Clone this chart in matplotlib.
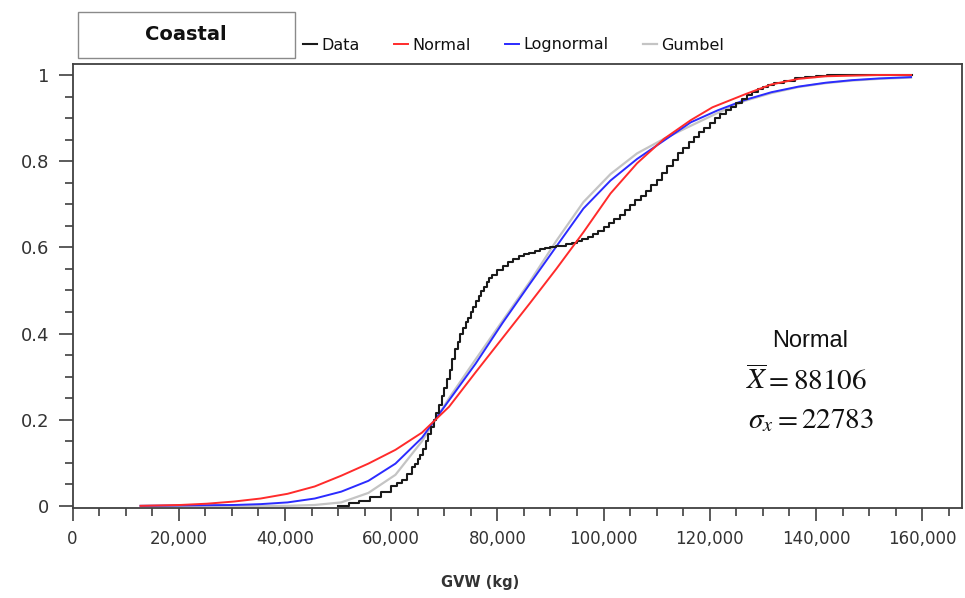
import matplotlib
matplotlib.use("Agg")
import matplotlib.pyplot as plt
from matplotlib.patches import Rectangle
from matplotlib.ticker import MultipleLocator, FuncFormatter

# ---------------- data ----------------
data_x = [50000, 52000, 54000, 56000, 58000, 60000, 61000, 62000, 63000, 64000,
          64500, 65000, 65500, 66000, 66500, 67000, 67500, 68000, 68500, 69000,
          69500, 70000, 70500, 71000, 71500, 72000, 72500, 73000, 73500, 74000,
          74500, 75000, 75500, 76000, 76500, 77000, 77500, 78000, 78500, 79000,
          80000, 81000, 82000, 83000, 84000, 85000, 86000, 87000, 88000, 89000,
          90000, 91000, 92000, 93000, 94000, 95000, 96000, 97000, 98000, 99000,
          100000, 101000, 102000, 103000, 104000, 105000, 106000, 107000, 108000, 109000,
          110000, 111000, 112000, 113000, 114000, 115000, 116000, 117000, 118000, 119000,
          120000, 121000, 122000, 123000, 124000, 125000, 126000, 127000, 128000, 129000,
          130000, 131000, 132000, 134000, 136000, 138000, 140000, 142000, 158000]
data_y = [0.0, 0.007, 0.012, 0.021, 0.032, 0.045, 0.052, 0.061, 0.073, 0.089,
          0.098, 0.108, 0.119, 0.133, 0.150, 0.166, 0.183, 0.200, 0.216, 0.233,
          0.254, 0.273, 0.294, 0.316, 0.340, 0.365, 0.380, 0.398, 0.412, 0.427,
          0.437, 0.451, 0.462, 0.476, 0.486, 0.498, 0.508, 0.519, 0.528, 0.535,
          0.548, 0.557, 0.566, 0.573, 0.579, 0.584, 0.588, 0.592, 0.595, 0.598,
          0.600, 0.602, 0.604, 0.607, 0.610, 0.614, 0.619, 0.625, 0.631, 0.639,
          0.648, 0.657, 0.666, 0.676, 0.687, 0.698, 0.709, 0.720, 0.731, 0.744,
          0.757, 0.773, 0.788, 0.803, 0.818, 0.831, 0.844, 0.856, 0.868, 0.878,
          0.889, 0.900, 0.909, 0.918, 0.926, 0.934, 0.944, 0.953, 0.961, 0.967,
          0.973, 0.977, 0.981, 0.987, 0.992, 0.995, 0.998, 1.0, 1.0]

normal_x = [12800, 20250, 25300, 30400, 35400, 40500, 45600, 50600, 55700, 60800,
            65800, 70900, 75900, 81000, 86100, 91100, 96200, 101300, 106300, 111400,
            116400, 120500, 126600, 131600, 136700, 141800, 151900, 157900]
normal_y = [0.0, 0.002, 0.005, 0.010, 0.017, 0.028, 0.045, 0.070, 0.098, 0.130,
            0.170, 0.230, 0.310, 0.390, 0.470, 0.550, 0.635, 0.725, 0.795, 0.852,
            0.895, 0.925, 0.955, 0.978, 0.991, 0.997, 1.0, 1.0]

lognormal_x = [12800, 30400, 35400, 40500, 45600, 50600, 55700, 60800, 65800, 70900,
               75900, 81000, 86100, 91100, 96200, 101300, 106300, 111400, 116400, 121500,
               126600, 131600, 136700, 141800, 146800, 151900, 157900]
lognormal_y = [0.0, 0.002, 0.004, 0.008, 0.017, 0.033, 0.058, 0.098, 0.158, 0.245,
               0.330, 0.425, 0.515, 0.602, 0.690, 0.755, 0.805, 0.848, 0.890, 0.918,
               0.942, 0.960, 0.973, 0.982, 0.988, 0.992, 0.995]

gumbel_x = [12800, 40500, 45600, 50600, 55700, 60800, 65800, 70900, 75900, 81000,
            86100, 91100, 96200, 101300, 106300, 111400, 116400, 121500, 126600, 131600,
            136700, 141800, 146800, 151900, 157900]
gumbel_y = [0.0, 0.0, 0.002, 0.008, 0.030, 0.072, 0.150, 0.250, 0.340, 0.430,
            0.520, 0.615, 0.705, 0.770, 0.818, 0.852, 0.882, 0.912, 0.940, 0.958,
            0.972, 0.981, 0.987, 0.991, 0.994]

series_labels = ["Data", "Normal", "Lognormal", "Gumbel"]
title_text = "Coastal"
xlabel_text = "GVW (kg)"
x_ticks = [0, 20000, 40000, 60000, 80000, 100000, 120000, 140000, 160000]
y_ticks = [0, 0.2, 0.4, 0.6, 0.8, 1.0]
fit_name = "Normal"
fit_mean = 88106
fit_std = 22783

# ---------------- figure ----------------
plt.rcParams["mathtext.fontset"] = "stix"
W, H = 965, 598
fig = plt.figure(figsize=(W / 100, H / 100), dpi=100)
ax = fig.add_axes([72.6 / W, 1 - 508 / H, (962 - 72.6) / W, (508 - 64) / H])

spine_col = "#404040"
text_col = "#333333"

l_data, = ax.plot(data_x, data_y, drawstyle="steps-post", color="#1a1a1a", lw=1.5,
                  label=series_labels[0], zorder=3)
l_gum, = ax.plot(gumbel_x, gumbel_y, color="#c4c4c4", lw=1.6, label=series_labels[3], zorder=2)
l_log, = ax.plot(lognormal_x, lognormal_y, color="#2b2bff", lw=1.4, label=series_labels[2], zorder=2.5)
l_norm, = ax.plot(normal_x, normal_y, color="#ff2b2b", lw=1.4, label=series_labels[1], zorder=4)

ax.set_xlim(0, 167500)
ax.set_ylim(-0.005, 1.0255)

ax.set_xticks(x_ticks)
ax.set_yticks(y_ticks)
ax.xaxis.set_minor_locator(MultipleLocator(5000))
ax.yaxis.set_minor_locator(MultipleLocator(0.05))
ax.xaxis.set_major_formatter(FuncFormatter(lambda v, p: f"{v:,.0f}"))
ax.yaxis.set_major_formatter(FuncFormatter(lambda v, p: f"{v:g}"))

ax.tick_params(axis="x", which="major", direction="out", length=9, width=1.2,
               color=spine_col, labelcolor=text_col, labelsize=12, pad=7)
ax.tick_params(axis="y", which="major", direction="out", length=10, width=1.2,
               color=spine_col, labelcolor=text_col, labelsize=13, pad=7)
ax.tick_params(axis="both", which="minor", direction="out", length=6, width=1.2,
               color=spine_col)
for s in ax.spines.values():
    s.set_color(spine_col)
    s.set_linewidth(1.3)

ax.set_xlabel(xlabel_text, fontsize=10.5, fontweight="bold", color=text_col)
ax.xaxis.set_label_coords((480 - 72.6) / (962 - 72.6), -(583 - 508) / (508 - 64))
ax.xaxis.label.set_verticalalignment("center")

# title box
fig.patches.append(Rectangle((78 / W, 1 - 58 / H), 217 / W, 46 / H, transform=fig.transFigure,
                             facecolor="white", edgecolor="#8a8a8a", lw=1.0))
fig.text(186 / W, 1 - 35 / H, title_text, ha="center", va="center", fontsize=14,
         fontweight="bold", color="#111111")

# legend row
leg = fig.legend(handles=[l_data, l_norm, l_log, l_gum], labels=series_labels,
                 loc="center left", bbox_to_anchor=(303 / W, 1 - 45 / H),
                 bbox_transform=fig.transFigure, ncol=4, frameon=False,
                 handlelength=0.85, handletextpad=0.3, columnspacing=2.15,
                 borderpad=0, borderaxespad=0, fontsize=11.5)
for t in leg.get_texts():
    t.set_color("#111111")

# annotation
fig.text(810 / W, 1 - 347 / H, fit_name, ha="center", va="baseline", fontsize=17,
         family="Liberation Sans", color="#111111")
fig.text(806 / W, 1 - 390 / H, r"$\overline{X} = %d$" % fit_mean, ha="center", va="baseline",
         fontsize=21, color="#111111")
fig.text(811 / W, 1 - 428 / H, r"$\sigma_x = %d$" % fit_std, ha="center", va="baseline",
         fontsize=21, color="#111111")

fig.savefig("out.png", dpi=100)
